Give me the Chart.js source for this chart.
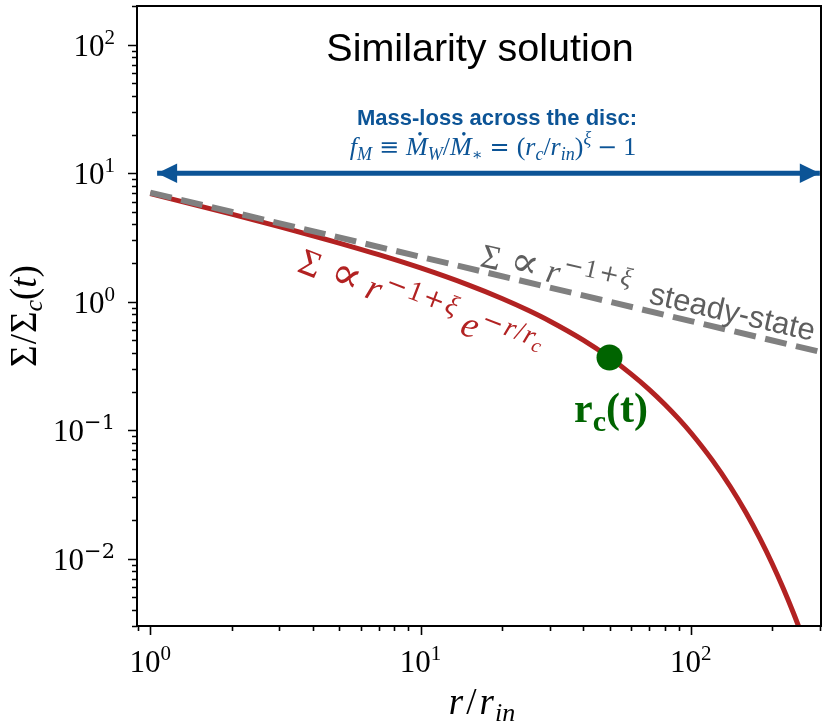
<!DOCTYPE html>
<html>
<head>
<meta charset="utf-8">
<script src="https://cdn.jsdelivr.net/npm/chart.js@4.4.1/dist/chart.umd.min.js"></script>
<style>
    html, body { margin: 0; padding: 0; background: #fff; }
    canvas { display: block; }
</style>
</head>
<body>
<canvas id="similarity-chart" width="830" height="728"></canvas>
<script>
'use strict';

// r / r_in along the similarity solution
var radii = [1, 1.5, 2, 3, 4, 5, 7, 10, 15, 20, 25, 30, 40, 50, 60, 70, 80, 90, 100, 120, 140, 160, 180, 200, 220, 240, 260];
var sigmaSimilarity = [6.931, 5.603, 4.804, 3.845, 3.264, 2.861, 2.323, 1.831, 1.353, 1.060, 0.858, 0.7085, 0.5024, 0.3679, 0.2749, 0.2084, 0.1596, 0.1232, 0.0957, 0.05856, 0.03634, 0.02279, 0.01440, 0.009158, 0.005853, 0.003756, 0.002419];

// steady-state power law
var steadyRadii = [1, 10, 100, 310];
var sigmaSteady = [7.071, 2.236, 0.7071, 0.4016];

// r_c(t) marker
var rcRadius = [50];
var rcSigma = [0.3679];

// mass-loss arrow across the disc
var arrowRadii = [1.06, 300];
var arrowSigma = [10, 10];

// axes
var xRange = [0.893, 303];
var yRange = [0.003, 200];
var xMajorTicks = [1, 10, 100];
var xTickExponents = ['0', '1', '2'];
var yMajorTicks = [0.01, 0.1, 1, 10, 100];
var yTickExponents = ['\u22122', '\u22121', '0', '1', '2'];

var RED = '#b22222';
var GRAY = '#808080';
var TEXT_GRAY = '#5e5e5e';
var BLUE = '#0c5496';
var GREEN = '#006400';
var SERIF = "'Liberation Serif', 'DejaVu Serif', serif";
var MATH = "'DejaVu Serif', serif";
var SANS = "'Liberation Sans', 'DejaVu Sans', sans-serif";

var toPoints = (xs, ys) => xs.map((x, i) => ({ x: x, y: ys[i] }));

function seg(t, style, size, family, dy, extra) {
    return Object.assign({ t: t, font: style + ' ' + size + 'px ' + family, size: size, dy: dy || 0, gap: 0 }, extra || {});
}

function drawRich(ctx, segs, x, y, align, angle, color) {
    ctx.save();
    ctx.translate(x, y);
    if (angle) ctx.rotate(angle * Math.PI / 180);
    ctx.fillStyle = color;
    ctx.textAlign = 'left';
    ctx.textBaseline = 'alphabetic';
    var widths = segs.map(s => {
        ctx.font = s.font;
        return ctx.measureText(s.t).width + s.gap;
    });
    var total = widths.reduce((a, b) => a + b, 0);
    var cx = align === 'center' ? -total / 2 : (align === 'right' ? -total : 0);
    segs.forEach((s, i) => {
        ctx.font = s.font;
        ctx.fillText(s.t, cx, s.dy);
        if (s.dot) {
            ctx.beginPath();
            ctx.arc(cx + (widths[i] - s.gap) * 0.64, s.dy - s.size * 0.66 - 4, s.size * 0.07, 0, Math.PI * 2);
            ctx.fill();
        }
        cx += widths[i];
    });
    ctx.restore();
}

function tickLabel(exp) {
    return [seg('10', 'normal', 31, SERIF), seg(exp, 'normal', 21, exp.length > 1 ? MATH : SERIF, -12)];
}

var axesPlugin = {
    id: 'mplAxes',
    afterDatasetsDraw(chart) {
        var ctx = chart.ctx;
        var area = chart.chartArea;
        var xs = chart.scales.x;
        var ys = chart.scales.y;

        // arrow heads at both ends of the mass-loss span
        var ay = ys.getPixelForValue(arrowSigma[0]);
        [[arrowRadii[0], -1], [arrowRadii[1], 1]].forEach(end => {
            var tip = xs.getPixelForValue(end[0]);
            ctx.save();
            ctx.fillStyle = BLUE;
            ctx.beginPath();
            ctx.moveTo(tip, ay);
            ctx.lineTo(tip - end[1] * 20, ay - 9.7);
            ctx.lineTo(tip - end[1] * 20, ay + 9.7);
            ctx.closePath();
            ctx.fill();
            ctx.restore();
        });

        ctx.save();
        ctx.strokeStyle = '#000';
        ctx.lineWidth = 1.6;
        ctx.beginPath();
        for (var k = -1; k <= 2; k++) {
            for (var m = 1; m <= 9; m++) {
                var v = m * Math.pow(10, k);
                if (v < xRange[0] || v > xRange[1]) continue;
                var px = Math.round(xs.getPixelForValue(v)) + 0.5;
                ctx.moveTo(px, area.bottom);
                ctx.lineTo(px, area.bottom + (m === 1 ? 9 : 5));
            }
        }
        for (k = -3; k <= 2; k++) {
            for (m = 1; m <= 9; m++) {
                v = m * Math.pow(10, k);
                if (v < yRange[0] || v > yRange[1]) continue;
                var py = Math.round(ys.getPixelForValue(v)) + 0.5;
                ctx.moveTo(area.left, py);
                ctx.lineTo(area.left - (m === 1 ? 9 : 5), py);
            }
        }
        ctx.stroke();

        ctx.lineWidth = 2;
        ctx.strokeRect(area.left, area.top, area.right - area.left, area.bottom - area.top);
        ctx.restore();

        xMajorTicks.forEach((v, i) => {
            drawRich(ctx, tickLabel(xTickExponents[i]), xs.getPixelForValue(v), area.bottom + 46, 'center', 0, '#000');
        });
        yMajorTicks.forEach((v, i) => {
            drawRich(ctx, tickLabel(yTickExponents[i]), area.left - 22, ys.getPixelForValue(v) + 11, 'right', 0, '#000');
        });

        // axis labels
        drawRich(ctx, [seg('r', 'italic', 37, SERIF, 0, { gap: 3 }), seg('/', 'normal', 37, SERIF, 0, { gap: 3 }), seg('r', 'italic', 37, SERIF, 0, { gap: 1 }),
            seg('in', 'italic', 26, SERIF, 7)], (area.left + area.right) / 2 + 3, 714, 'center', 0, '#000');
        drawRich(ctx, [seg('\u03a3', 'normal', 37, SERIF, 0, { gap: 1 }), seg('/', 'normal', 37, SERIF, 0, { gap: 1 }), seg('\u03a3', 'normal', 37, SERIF),
            seg('c', 'italic', 26, SERIF, 6), seg('(', 'normal', 37, SERIF), seg('t', 'italic', 37, SERIF), seg(')', 'normal', 37, SERIF)],
            36, (area.top + area.bottom) / 2, 'center', -90, '#000');
    },
    afterDraw(chart) {
        var ctx = chart.ctx;
        var cx = (chart.chartArea.left + chart.chartArea.right) / 2;

        drawRich(ctx, [seg('Similarity solution', 'normal', 39.5, SANS)], cx + 1, 61, 'center', 0, '#000');
        drawRich(ctx, [seg('Mass-loss across the disc:', 'bold', 22, SANS)], 497, 125, 'center', 0, BLUE);
        drawRich(ctx, [
            seg('f', 'italic', 26, SERIF), seg('M', 'italic', 18, SERIF, 5, { gap: 7 }),
            seg('\u2261', 'normal', 24, MATH, 0, { gap: 7 }),
            seg('M', 'italic', 26, SERIF, 0, { dot: true }), seg('W', 'italic', 18, SERIF, 5),
            seg('/', 'normal', 26, SERIF),
            seg('M', 'italic', 26, SERIF, 0, { dot: true }), seg('\u2217', 'normal', 16, MATH, 5, { gap: 7 }),
            seg('=', 'normal', 24, MATH, 0, { gap: 7 }),
            seg('(', 'normal', 26, SERIF), seg('r', 'italic', 26, SERIF), seg('c', 'italic', 18, SERIF, 5),
            seg('/', 'normal', 26, SERIF), seg('r', 'italic', 26, SERIF), seg('in', 'italic', 18, SERIF, 5),
            seg(')', 'normal', 26, SERIF), seg('\u03be', 'italic', 18, SERIF, -11, { gap: 6 }),
            seg('\u2212', 'normal', 24, MATH, 0, { gap: 6 }), seg('1', 'normal', 26, SERIF)
        ], 493, 155, 'center', 0, BLUE);

        drawRich(ctx, [seg('\u03a3', 'normal', 34, SERIF, 0, { gap: 10 }), seg('\u221d', 'normal', 42, MATH, 0, { gap: 9 }),
            seg('r', 'italic', 34, SERIF, 0, { gap: 2 }),
            seg('\u2212', 'normal', 24, MATH, -14, { gap: 1 }), seg('1', 'normal', 26, SERIF, -14, { gap: 2 }),
            seg('+', 'normal', 24, MATH, -14, { gap: 2 }), seg('\u03be', 'italic', 26, SERIF, -14)],
            479, 266, 'left', 13, TEXT_GRAY);
        drawRich(ctx, [seg('steady-state', 'normal', 31, SANS)], 648, 303, 'left', 13, TEXT_GRAY);

        drawRich(ctx, [seg('\u03a3', 'normal', 37, SERIF, 0, { gap: 12 }), seg('\u221d', 'normal', 45, MATH, 0, { gap: 8 }),
            seg('r', 'italic', 37, SERIF, 0, { gap: 2 }),
            seg('\u2212', 'normal', 26, MATH, -15, { gap: 2 }), seg('1', 'normal', 28, SERIF, -15, { gap: 2 }),
            seg('+', 'normal', 26, MATH, -15, { gap: 2 }), seg('\u03be', 'italic', 28, SERIF, -15, { gap: 10 }),
            seg('e', 'italic', 37, SERIF, 0, { gap: 1 }),
            seg('\u2212', 'normal', 26, MATH, -15, { gap: 2 }), seg('r', 'italic', 28, SERIF, -15, { gap: 1 }),
            seg('/', 'normal', 28, SERIF, -15, { gap: 1 }),
            seg('r', 'italic', 28, SERIF, -15), seg('c', 'italic', 20, SERIF, -10)],
            296, 271, 'left', 21, RED);

        drawRich(ctx, [seg('r', 'bold', 42, SERIF), seg('c', 'bold', 30, SERIF, 9), seg('(t)', 'bold', 42, SERIF)],
            574, 422, 'left', 0, GREEN);
    }
};

var canvas = document.getElementById('similarity-chart');

var similarityChart = new Chart(canvas, {
    type: 'line',
    data: {
        datasets: [{
            label: 'r_c(t)',
            data: toPoints(rcRadius, rcSigma),
            showLine: false,
            pointRadius: 13,
            pointBackgroundColor: GREEN,
            pointBorderWidth: 0,
            order: 0
        }, {
            label: 'Mass-loss across the disc',
            data: toPoints(arrowRadii, arrowSigma),
            borderColor: BLUE,
            borderWidth: 5,
            pointRadius: 0,
            clip: 0,
            order: 1
        }, {
            label: 'steady-state',
            data: toPoints(steadyRadii, sigmaSteady),
            borderColor: GRAY,
            borderWidth: 6,
            borderDash: [22, 9.6],
            pointRadius: 0,
            clip: 0,
            order: 2
        }, {
            label: 'similarity solution',
            data: toPoints(radii, sigmaSimilarity),
            borderColor: RED,
            borderWidth: 5,
            pointRadius: 0,
            cubicInterpolationMode: 'monotone',
            clip: 0,
            order: 3
        }]
    },
    options: {
        responsive: false,
        animation: false,
        layout: { autoPadding: false, padding: { left: 137, top: 6, right: 9, bottom: 102 } },
        elements: { line: { fill: false, borderCapStyle: 'butt' } },
        plugins: {
            legend: { display: false },
            tooltip: { enabled: false },
            title: { display: false }
        },
        scales: {
            x: { type: 'logarithmic', min: xRange[0], max: xRange[1], display: false },
            y: { type: 'logarithmic', min: yRange[0], max: yRange[1], display: false }
        }
    },
    plugins: [axesPlugin]
});
</script>
</body>
</html>
